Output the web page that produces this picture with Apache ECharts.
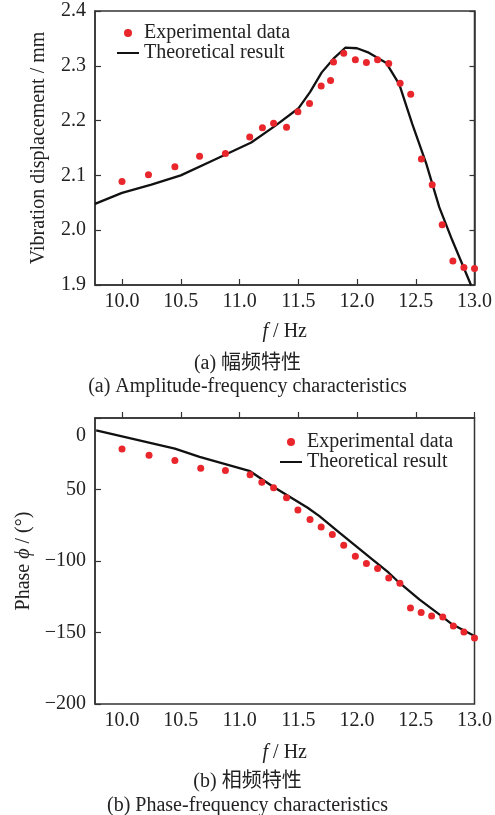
<!DOCTYPE html>
<html>
<head>
<meta charset="utf-8">
<script src="https://cdn.jsdelivr.net/npm/echarts@6/dist/echarts.min.js"></script>
<style>
  html, body { margin: 0; padding: 0; background: #fff; }
  #chart { width: 495px; height: 815px; }
</style>
</head>
<body>
<div id="chart"></div>
<script>
// (a) amplitude-frequency
const ampExpFreq = [10.0, 10.225, 10.45, 10.66, 10.88, 11.087, 11.195, 11.29, 11.40, 11.497, 11.596, 11.695, 11.775, 11.80, 11.887, 11.986, 12.08, 12.175, 12.27, 12.367, 12.457, 12.548, 12.64, 12.725, 12.816, 12.91, 13.0];
const ampExpDisp = [2.089, 2.101, 2.116, 2.135, 2.140, 2.170, 2.187, 2.195, 2.188, 2.216, 2.231, 2.263, 2.273, 2.307, 2.323, 2.311, 2.306, 2.311, 2.304, 2.268, 2.248, 2.130, 2.083, 2.010, 1.944, 1.932, 1.930];
const ampTheoFreq = [9.77, 10.0, 10.25, 10.5, 10.75, 11.1, 11.3, 11.5, 11.6, 11.7, 11.8, 11.9, 12.0, 12.1, 12.25, 12.36, 12.47, 12.59, 12.7, 12.81, 12.97];
const ampTheoDisp = [2.048, 2.068, 2.083, 2.100, 2.125, 2.160, 2.190, 2.222, 2.252, 2.288, 2.313, 2.333, 2.332, 2.324, 2.305, 2.266, 2.194, 2.121, 2.042, 1.982, 1.900];

// (b) phase-frequency
const phaseExpFreq = [10.0, 10.23, 10.45, 10.67, 10.88, 11.09, 11.19, 11.29, 11.40, 11.497, 11.60, 11.695, 11.79, 11.887, 11.986, 12.08, 12.175, 12.27, 12.365, 12.455, 12.546, 12.635, 12.73, 12.82, 12.91, 13.0];
const phaseExpDeg = [-21.6, -26.0, -29.7, -35.1, -36.7, -39.6, -44.9, -48.8, -55.8, -64.4, -71.0, -76.3, -81.4, -88.9, -96.6, -101.7, -105.2, -111.9, -115.6, -132.9, -136.1, -138.5, -139.2, -145.4, -149.6, -153.8];
const phaseTheoFreq = [9.78, 10.0, 10.45, 10.66, 11.09, 11.28, 11.58, 11.68, 11.85, 12.13, 12.27, 12.36, 12.53, 12.70, 12.81, 13.0];
const phaseTheoDeg = [-8.6, -12.8, -21.4, -27.2, -37.2, -47.7, -62.8, -68.6, -80.2, -98.9, -108.2, -115.2, -126.8, -137.3, -144.3, -152.4];

const freqTicks = [10.0, 10.5, 11.0, 11.5, 12.0, 12.5, 13.0];

const FONT = '"Liberation Serif", "Times New Roman", serif';
const CJK = '"Liberation Serif", "Noto Sans CJK SC", serif';
const AXIS_COLOR = '#333';
const DOT_COLOR = '#e8262b';
// a 22x8 box with a 2px bar through the middle, so the legend draws a plain line
const LINE_ICON = 'path://M0,0M0,3H22V5H0ZM22,8';

function zip(xs, ys) {
  return xs.map((x, i) => [x, ys[i]]);
}

function freqAxis(gridIndex, nameGap) {
  return {
    type: 'value',
    gridIndex: gridIndex,
    min: 9.77,
    max: 13.0,
    name: '{i|f} / Hz',
    nameLocation: 'center',
    nameGap: nameGap,
    nameTextStyle: {
      color: '#222',
      fontFamily: FONT,
      fontSize: 20,
      rich: { i: { fontStyle: 'italic', fontFamily: FONT, fontSize: 20, color: '#222' } }
    },
    axisLine: { show: true, lineStyle: { color: AXIS_COLOR, width: 1.5 } },
    axisTick: { show: true, inside: true, length: 6, customValues: freqTicks, lineStyle: { color: AXIS_COLOR, width: 1.2 } },
    axisLabel: {
      customValues: freqTicks,
      color: '#222',
      fontFamily: FONT,
      fontSize: 20,
      margin: 7,
      formatter: v => v.toFixed(1)
    },
    splitLine: { show: false }
  };
}

function legendAt(left, top) {
  return {
    left: left,
    top: top,
    padding: 0,
    orient: 'vertical',
    itemWidth: 22,
    itemHeight: 8,
    itemGap: 0,
    textStyle: { color: '#222', fontFamily: FONT, fontSize: 20, lineHeight: 20 },
    data: [
      { name: 'Experimental data', icon: 'circle' },
      { name: 'Theoretical result', icon: LINE_ICON, itemStyle: { color: '#111' } }
    ]
  };
}

const chart = echarts.init(document.getElementById('chart'));

chart.setOption({
  backgroundColor: '#fff',
  animation: false,
  grid: [
    { left: 95, top: 11, width: 380, height: 274, show: true, borderColor: AXIS_COLOR, borderWidth: 1.5 },
    { left: 95, top: 418, width: 380, height: 286, show: true, borderColor: AXIS_COLOR, borderWidth: 1.5 }
  ],
  xAxis: [freqAxis(0, 37), freqAxis(1, 39)],
  yAxis: [
    {
      type: 'value',
      gridIndex: 0,
      min: 1.9,
      max: 2.4,
      interval: 0.1,
      name: 'Vibration displacement / mm',
      nameLocation: 'center',
      nameGap: 46,
      nameTextStyle: { color: '#222', fontFamily: FONT, fontSize: 20 },
      axisLine: { show: true, lineStyle: { color: AXIS_COLOR, width: 1.5 } },
      axisTick: { inside: true, length: 6, lineStyle: { color: AXIS_COLOR, width: 1.2 } },
      axisLabel: { color: '#222', fontFamily: FONT, fontSize: 20, margin: 9, formatter: v => v.toFixed(1) },
      splitLine: { show: false }
    },
    {
      type: 'value',
      gridIndex: 0,
      position: 'right',
      min: 1.9,
      max: 2.4,
      interval: 0.1,
      axisLine: { show: true, lineStyle: { color: AXIS_COLOR, width: 1.5 } },
      axisTick: { inside: true, length: 5, lineStyle: { color: AXIS_COLOR, width: 1.2 } },
      axisLabel: { show: false },
      splitLine: { show: false }
    },
    {
      type: 'value',
      gridIndex: 1,
      min: -200,
      max: 0,
      interval: 50,
      name: 'Phase {i|ϕ} / (°)',
      nameLocation: 'center',
      nameGap: 58,
      nameTextStyle: {
        color: '#222',
        fontFamily: FONT,
        fontSize: 20,
        rich: { i: { fontStyle: 'italic', fontFamily: FONT, fontSize: 20, color: '#222' } }
      },
      axisLine: { show: true, lineStyle: { color: AXIS_COLOR, width: 1.5 } },
      axisTick: { inside: true, length: 6, lineStyle: { color: AXIS_COLOR, width: 1.2 } },
      axisLabel: {
        color: '#222',
        fontFamily: FONT,
        fontSize: 20,
        margin: 9,
        formatter: function (v) {
          // the source figure prints "0" a little low and "-50" without its sign
          if (v === 0) return '{z|0}';
          if (v === -50) return '50';
          return '\u2212' + Math.abs(v);
        },
        rich: { z: { fontFamily: FONT, fontSize: 20, color: '#222', padding: [36, 0, 0, 0] } }
      },
      splitLine: { show: false }
    }
  ],
  legend: [legendAt(117, 23), legendAt(280, 432)],
  series: [
    {
      type: 'line',
      name: 'Theoretical result',
      xAxisIndex: 0,
      yAxisIndex: 0,
      data: zip(ampTheoFreq, ampTheoDisp),
      symbol: 'none',
      lineStyle: { color: '#111', width: 2.3 },
      itemStyle: { color: '#111' },
      z: 2
    },
    {
      type: 'scatter',
      name: 'Experimental data',
      xAxisIndex: 0,
      yAxisIndex: 0,
      data: zip(ampExpFreq, ampExpDisp),
      symbol: 'circle',
      symbolSize: 7,
      itemStyle: { color: DOT_COLOR, opacity: 1 },
      z: 3
    },
    {
      type: 'line',
      name: 'Theoretical result',
      xAxisIndex: 1,
      yAxisIndex: 2,
      data: zip(phaseTheoFreq, phaseTheoDeg),
      symbol: 'none',
      lineStyle: { color: '#111', width: 2.3 },
      itemStyle: { color: '#111' },
      z: 2
    },
    {
      type: 'scatter',
      name: 'Experimental data',
      xAxisIndex: 1,
      yAxisIndex: 2,
      data: zip(phaseExpFreq, phaseExpDeg),
      symbol: 'circle',
      symbolSize: 7,
      itemStyle: { color: DOT_COLOR, opacity: 1 },
      z: 3
    }
  ],
  graphic: [
    { type: 'text', left: 'center', top: 354, style: { text: '(a) 幅频特性', font: '20px ' + CJK, fill: '#222' } },
    { type: 'text', left: 'center', top: 377, style: { text: '(a) Amplitude-frequency characteristics', font: '20px ' + FONT, fill: '#222' } },
    { type: 'text', left: 'center', top: 772, style: { text: '(b) 相频特性', font: '20px ' + CJK, fill: '#222' } },
    { type: 'text', left: 'center', top: 796, style: { text: '(b) Phase-frequency characteristics', font: '20px ' + FONT, fill: '#222' } }
  ]
});
</script>
</body>
</html>
